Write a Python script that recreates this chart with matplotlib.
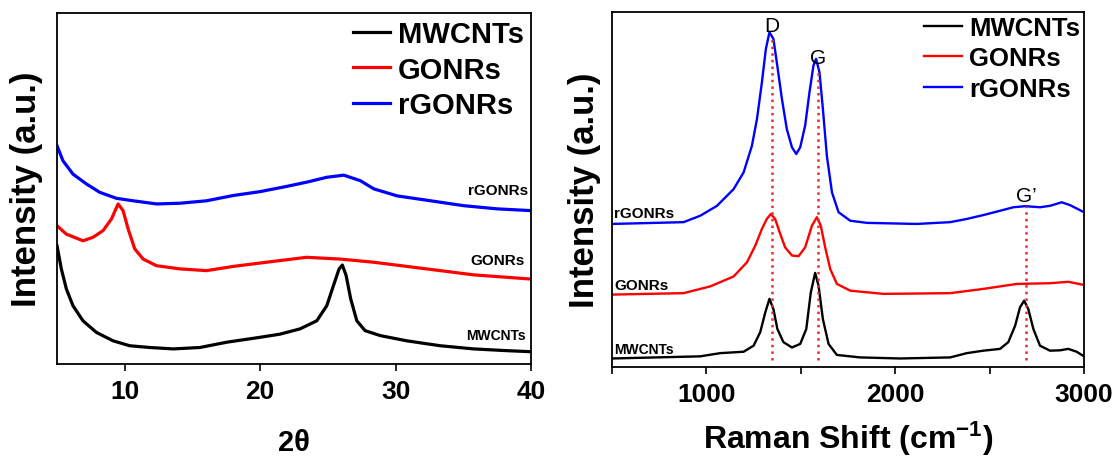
import numpy as np
import matplotlib
matplotlib.use('Agg')
import matplotlib.pyplot as plt
from matplotlib.ticker import MultipleLocator

plt.rcParams['font.family'] = ['Liberation Sans', 'DejaVu Sans']
plt.rcParams['mathtext.fontset'] = 'custom'
plt.rcParams['mathtext.bf'] = 'Liberation Sans:bold'
plt.rcParams['mathtext.rm'] = 'Liberation Sans'

# ---- XRD data (2theta, intensity in % of axis height) ----
xrd_mw_x = [5.0, 5.32, 5.69, 6.18, 6.92, 7.91, 9.14, 10.37, 11.85, 13.58, 15.55, 17.52,
            19.98, 21.46, 22.94, 24.18, 24.92, 25.41, 25.83, 26.07, 26.35, 26.69, 27.14,
            27.75, 28.86, 30.83, 33.30, 35.76, 38.22, 40.0]
xrd_mw_y = [33.7, 27.1, 21.4, 16.6, 12.3, 9.0, 6.6, 5.2, 4.7, 4.3, 4.7, 6.2,
            7.6, 8.5, 10.0, 12.3, 16.6, 22.3, 27.1, 28.2, 25.2, 18.5, 12.3,
            9.5, 8.1, 6.6, 5.2, 4.3, 3.8, 3.5]

xrd_go_x = [5.0, 5.69, 6.92, 7.66, 8.40, 9.02, 9.51, 9.88, 10.25, 10.74, 11.36, 12.35,
            14.07, 16.04, 18.01, 20.48, 23.43, 25.89, 28.36, 30.83, 33.30, 35.76, 38.22, 40.0]
xrd_go_y = [39.4, 37.0, 35.1, 36.1, 38.0, 41.3, 45.6, 43.7, 38.5, 32.8, 29.9, 28.0,
            27.1, 26.6, 27.8, 29.0, 30.4, 29.9, 29.0, 27.8, 26.6, 25.4, 24.7, 24.2]

xrd_rgo_x = [5.0, 5.44, 6.18, 7.17, 8.16, 9.39, 10.62, 12.35, 14.07, 16.04, 18.01, 19.98,
             21.96, 23.43, 24.92, 26.18, 27.41, 28.39, 30.11, 32.58, 35.04, 37.50, 40.0]
xrd_rgo_y = [62.2, 57.9, 54.1, 51.3, 48.9, 47.2, 46.5, 45.6, 45.8, 46.5, 48.0, 49.1,
             50.6, 51.8, 53.2, 53.8, 52.2, 49.9, 47.9, 46.5, 45.1, 44.2, 43.7]

# ---- Raman data (shift cm-1, intensity in % of axis height) ----
ram_mw_x = [500, 967, 1073, 1197, 1250, 1285, 1312, 1334, 1355, 1376, 1408, 1453, 1497,
            1529, 1553, 1576, 1594, 1617, 1647, 1691, 1814, 2026, 2291, 2379, 2467, 2555,
            2599, 2635, 2661, 2683, 2705, 2732, 2767, 2820, 2873, 2917, 2961, 3000]
ram_mw_y = [2.4, 3.0, 3.9, 4.3, 6.0, 9.8, 15.4, 19.2, 16.3, 10.7, 7.0, 5.5, 6.5,
            10.7, 21.0, 26.5, 22.9, 13.5, 6.5, 3.4, 2.7, 2.4, 2.7, 3.9, 4.6, 5.1,
            7.0, 11.6, 16.8, 18.7, 16.3, 10.7, 6.0, 4.6, 4.7, 5.1, 4.3, 3.0]

ram_go_x = [500, 879, 1020, 1144, 1215, 1259, 1294, 1320, 1341, 1364, 1391, 1417, 1453,
            1488, 1523, 1559, 1585, 1606, 1629, 1656, 1691, 1762, 1938, 2291, 2467, 2644,
            2820, 2917, 3000]
ram_go_y = [20.4, 20.8, 22.7, 25.5, 29.5, 34.2, 38.9, 41.7, 43.1, 41.7, 37.5, 33.7, 31.4,
            31.2, 33.7, 39.8, 42.2, 39.8, 33.7, 27.6, 23.4, 21.5, 20.6, 20.8, 22.0, 23.4,
            23.6, 24.0, 23.1]

ram_rgo_x = [500, 879, 967, 1056, 1144, 1197, 1241, 1268, 1294, 1315, 1334, 1355, 1373,
             1400, 1426, 1453, 1476, 1497, 1523, 1546, 1567, 1581, 1599, 1617, 1638, 1665,
             1700, 1762, 1850, 2114, 2291, 2379, 2467, 2555, 2626, 2688, 2767, 2820, 2882,
             2926, 3000]
ram_rgo_y = [40.3, 40.8, 42.6, 45.4, 50.1, 54.8, 62.3, 69.9, 80.2, 89.6, 94.3, 92.4, 85.8,
             75.5, 67.0, 61.9, 60.0, 61.9, 68.0, 77.4, 84.9, 86.8, 83.0, 72.7, 59.5, 49.2,
             43.6, 41.2, 40.6, 40.3, 40.8, 41.7, 42.8, 44.0, 45.0, 45.3, 45.0, 45.4, 46.4,
             45.6, 43.6]

names = ['MWCNTs', 'GONRs', 'rGONRs']
colors = ['black', '#ff0000', '#0000ff']

xrd_series = [(xrd_mw_x, xrd_mw_y), (xrd_go_x, xrd_go_y), (xrd_rgo_x, xrd_rgo_y)]
ram_series = [(ram_mw_x, ram_mw_y), (ram_go_x, ram_go_y), (ram_rgo_x, ram_rgo_y)]

# inline labels (x, y) in data coords
xrd_label_pos = [(39.6, 8.2), (39.5, 29.6), (39.8, 49.5)]
ram_label_pos = [(510, 5.2), (510, 23.0), (510, 43.5)]

# peak markers
peak_names = ['D', 'G', 'G\u2019']
peak_pos = [1347, 1593, 2693]

fig = plt.figure(figsize=(11.18, 4.6), dpi=100)
ax1 = fig.add_axes([57 / 1118, 95 / 460, 474 / 1118, 351 / 460])
ax2 = fig.add_axes([612 / 1118, 92 / 460, 472 / 1118, 355 / 460])

# left panel: XRD
for (x, y), name, c in zip(xrd_series, names, colors):
    ax1.plot(x, y, color=c, lw=2.3, label=name)
for (lx, ly), name in zip(xrd_label_pos, names):
    ax1.text(lx, ly, name, ha='right', va='center', fontsize=11 if name != 'MWCNTs' else 10,
             fontweight='bold')
ax1.set_xlim(5, 40)
ax1.set_ylim(0, 100)
ax1.xaxis.set_major_locator(MultipleLocator(10))
ax1.set_yticks([])
ax1.set_xlabel('2\u03b8', fontsize=21, fontweight='bold', labelpad=18)
ax1.set_ylabel('Intensity (a.u.)', fontsize=25, fontweight='bold', labelpad=10)
ax1.legend(loc='upper right', frameon=False, prop={'size': 21, 'weight': 'bold'},
           handlelength=1.25, handletextpad=0.28, labelspacing=0.25,
           borderaxespad=0.1, borderpad=0.15)

# right panel: Raman
for (x, y), name, c in zip(ram_series, names, colors):
    ax2.plot(x, y, color=c, lw=1.7, label=name)
for (lx, ly), name in zip(ram_label_pos, names):
    ax2.text(lx, ly, name, ha='left', va='center', fontsize=11 if name != 'MWCNTs' else 10,
             fontweight='bold')

blue_x, blue_y = ram_series[2]
for pname, p in zip(peak_names, peak_pos):
    top = np.interp(p, blue_x, blue_y)
    ax2.plot([p, p], [2.0, top], color='#e03030', lw=1.8, ls=':', zorder=3)
    ax2.text(p, top + 0.3, pname, ha='center', va='bottom', fontsize=15)

ax2.set_xlim(500, 3000)
ax2.set_ylim(0, 100)
ax2.xaxis.set_major_locator(MultipleLocator(1000))
ax2.xaxis.set_minor_locator(MultipleLocator(500))
ax2.set_yticks([])
ax2.set_xlabel(r'Raman Shift (cm$\mathbf{^{-1}}$)', fontsize=23, fontweight='bold', labelpad=9)
ax2.set_ylabel('Intensity (a.u.)', fontsize=25, fontweight='bold', labelpad=8)
ax2.legend(loc='upper right', frameon=False, prop={'size': 18.5, 'weight': 'bold'},
           handlelength=1.5, handletextpad=0.26, labelspacing=0.25,
           borderaxespad=0.05, borderpad=0.1)

for ax in (ax1, ax2):
    for sp in ax.spines.values():
        sp.set_linewidth(1.3)
    ax.tick_params(axis='x', which='both', direction='out', length=5, width=1.2,
                   labelsize=19, pad=6, top=False)
    for lab in ax.get_xticklabels():
        lab.set_fontweight('bold')

fig.savefig('out.png', dpi=100, facecolor='white')
